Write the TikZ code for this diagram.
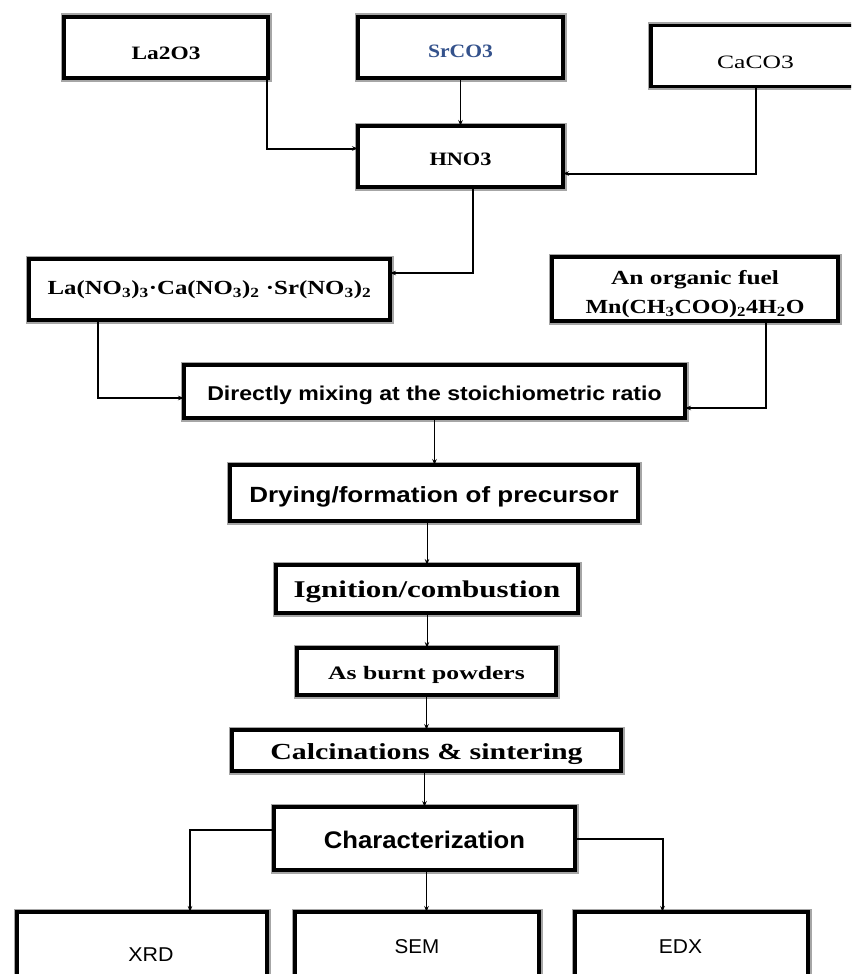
\documentclass[tikz,border=0pt]{standalone}
\usepackage{fontspec}
\setmainfont{Liberation Serif}
\setsansfont{Liberation Sans}
\usetikzlibrary{arrows.meta,calc}
\definecolor{srblue}{RGB}{52,82,140}
\newcommand{\lowtxt}[2]{\raisebox{-#1}[\height][\depth]{#2}}
\begin{document}
\begin{tikzpicture}[x=1pt,y=-1pt,
  box/.style={draw=black,line width=3.4pt,fill=white,
    preaction={draw=black!35,line width=7pt},
    inner sep=0pt,outer sep=0pt,align=center,font=\fontsize{18}{22}\selectfont},
  thinc/.style={line width=1pt,-{Stealth[length=6pt,width=4.5pt]}},
  thickc/.style={line width=2pt,-{Stealth[length=6pt,width=4.5pt]}}]
\useasboundingbox (0,0) rectangle (851,974);
\clip (0,0) rectangle (851,974);
\fill[white] (0,0) rectangle (851,974);
% top row
\node[box,minimum width=204,minimum height=61] (la) at (166,47.5) {\lowtxt{6pt}{\bfseries\scalebox{1.3}[1.05]{La2O3}}};
\node[box,minimum width=205,minimum height=61] (sr) at (460.5,47.5) {\lowtxt{4pt}{\color{srblue}\bfseries\scalebox{1.2}[1.05]{SrCO3}}};
\node[box,minimum width=209,minimum height=61] (ca) at (755.5,56) {\lowtxt{6pt}{\scalebox{1.42}[1.05]{CaCO3}}};
\node[box,minimum width=205,minimum height=61] (hno) at (460.5,156.5) {\lowtxt{3pt}{\bfseries\scalebox{1.24}[1.05]{HNO3}}};
% second row
\node[box,minimum width=361,minimum height=61] (nit) at (209.5,289.5) {\bfseries\scalebox{1.24}[1]{\fontsize{20}{24}\selectfont La(NO\textsubscript{3})\textsubscript{3}·Ca(NO\textsubscript{3})\textsubscript{2} ·Sr(NO\textsubscript{3})\textsubscript{2}}};
\node[box,minimum width=286,minimum height=64] (fuel) at (695,289) {\lowtxt{4pt}{\bfseries\fontsize{20}{28}\selectfont\begin{tabular}{@{}c@{}}\scalebox{1.27}[1]{An organic fuel}\\[1pt]\scalebox{1.2}[1]{Mn(CH\textsubscript{3}COO)\textsubscript{2}4H\textsubscript{2}O}\end{tabular}}};
% main chain
\node[box,minimum width=501,minimum height=53,font=\sffamily\bfseries\fontsize{20}{24}\selectfont] (mix) at (434.5,391.5) {\lowtxt{4pt}{\scalebox{1.155}[1]{Directly mixing at the stoichiometric ratio}}};
\node[box,minimum width=408,minimum height=56,font=\sffamily\bfseries\fontsize{22}{26}\selectfont] (dry) at (434,493) {\lowtxt{4pt}{\scalebox{1.18}[1]{Drying/formation of precursor}}};
\node[box,minimum width=302,minimum height=48,font=\bfseries\fontsize{24}{28}\selectfont] (ign) at (427,589) {\lowtxt{3pt}{\scalebox{1.29}[1]{Ignition/combustion}}};
\node[box,minimum width=259,minimum height=47,font=\bfseries\fontsize{19}{22}\selectfont] (burnt) at (426.5,671.5) {\lowtxt{3pt}{\scalebox{1.35}[1]{As burnt powders}}};
\node[box,minimum width=389,minimum height=41,font=\bfseries\fontsize{23}{26}\selectfont] (calc) at (426.5,750.5) {\lowtxt{4pt}{\scalebox{1.3}[1]{Calcinations \& sintering}}};
\node[box,minimum width=301,minimum height=63,font=\sffamily\bfseries\fontsize{24}{28}\selectfont] (char) at (424.5,838.5) {\lowtxt{1pt}{\scalebox{1.07}[1]{Characterization}}};
% bottom row
\node[box,minimum width=250,minimum height=86,font=\sffamily\fontsize{20}{24}\selectfont] (xrd) at (142,955) {\hspace*{18pt}\scalebox{1.07}[1]{XRD}};
\node[box,minimum width=244,minimum height=70,font=\sffamily\fontsize{20}{24}\selectfont] (sem) at (417,947) {\scalebox{1.03}[1]{SEM}};
\node[box,minimum width=233,minimum height=70,font=\sffamily\fontsize{20}{24}\selectfont] (edx) at (691.5,947) {\scalebox{1.05}[1]{EDX}\hspace*{22pt}};
% connectors
\draw[thickc] ([xshift=-1pt]la.south east) |- ([yshift=8pt]hno.west);
\draw[thinc] (sr.south) -- (hno.north);
\draw[thickc] (ca.south) |- ([yshift=-17pt]hno.east);
\draw[thickc] ([xshift=12pt]hno.south) |- ([yshift=16.5pt]nit.east);
\draw[thickc] ([xshift=-112pt]nit.south) |- ([yshift=-6.5pt]mix.west);
\draw[thickc] ([xshift=71pt]fuel.south) |- ([yshift=-16.5pt]mix.east);
\draw[thinc] (mix.south) -- (mix.south |- dry.north);
\draw[thinc] (ign.north |- dry.south) -- (ign.north);
\draw[thinc] (ign.south) -- (ign.south |- burnt.north);
\draw[thinc] (burnt.south) -- (burnt.south |- calc.north);
\draw[thinc] (char.north |- calc.south) -- (char.north);
\draw[thinc] ([xshift=2pt]char.south) -- ([xshift=2pt]char.south |- sem.north);
\draw[thickc] ([yshift=8.5pt]char.west) -| ([xshift=48pt]xrd.north);
\draw[thickc] (char.east) -| ([xshift=-29pt]edx.north);
\end{tikzpicture}
\end{document}
